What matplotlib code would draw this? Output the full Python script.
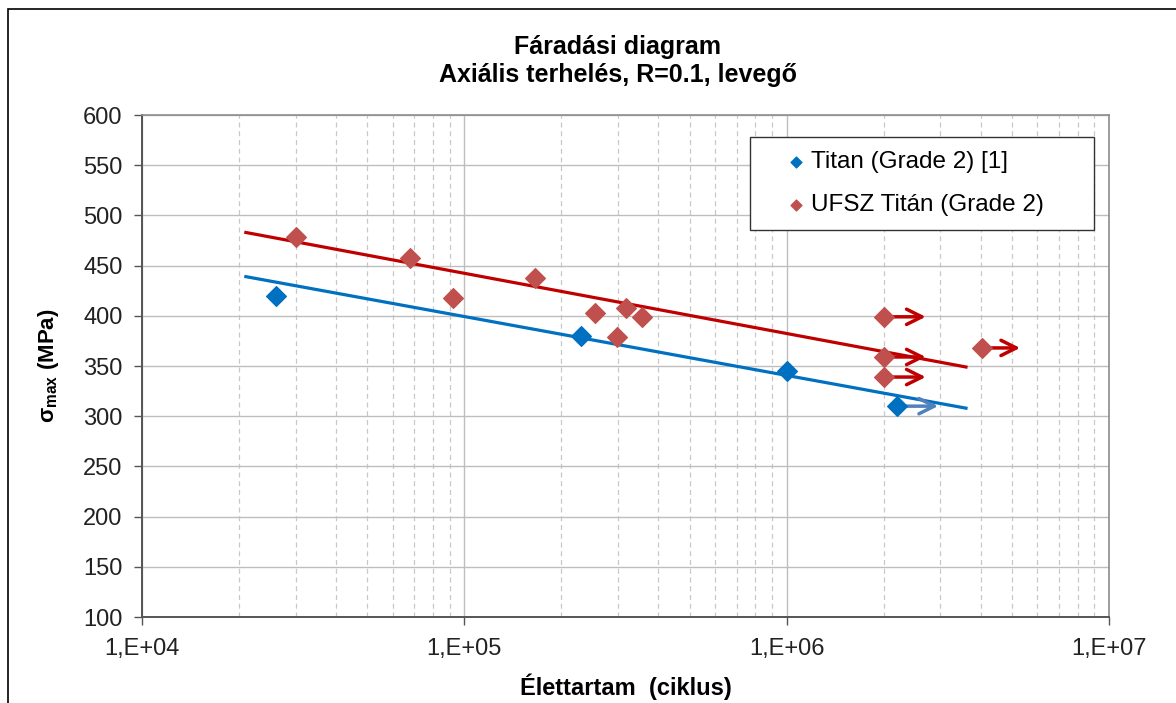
import matplotlib
matplotlib.use("Agg")
import matplotlib.pyplot as plt
import matplotlib.ticker as mticker
from matplotlib.patches import Rectangle
import numpy as np

# Titan (Grade 2) [1] - literature data
titan_n = [2.6e4, 2.3e5, 1.0e6, 2.2e6]
titan_s = [420, 380, 345, 310]

# UFSZ Titán (Grade 2) - own measurements
ufsz_n = [3.0e4, 6.8e4, 9.2e4, 1.66e5, 2.55e5, 2.98e5, 3.18e5, 3.56e5,
          2.0e6, 2.0e6, 2.0e6, 4.05e6]
ufsz_s = [478, 458, 418, 438, 403, 379, 408, 399, 399, 359, 339, 368]

# run-outs (no failure): start and end of the arrow
titan_runout = [(2.2e6, 310, 2.95e6)]
ufsz_runout = [(2.0e6, 399, 2.7e6), (2.0e6, 359, 2.7e6),
               (2.0e6, 339, 2.7e6), (4.05e6, 368, 5.3e6)]

# trend lines (power fit, end points)
titan_trend_n = [2.1e4, 3.6e6]
titan_trend_s = [439, 308]
ufsz_trend_n = [2.1e4, 3.6e6]
ufsz_trend_s = [483, 349]

blue = "#0070C0"
red_mk = "#C0504D"
red_ln = "#C00000"
plt.rcParams["font.family"] = ["Liberation Sans", "DejaVu Sans"]
plt.rcParams["mathtext.fontset"] = "custom"
plt.rcParams["mathtext.rm"] = "Liberation Sans:bold"
plt.rcParams["mathtext.it"] = "Liberation Sans:bold"

fig = plt.figure(figsize=(11.76, 7.03), dpi=100)
ax = fig.add_axes([142 / 1176, 1 - 617 / 703, (1109 - 142) / 1176, (617 - 115) / 703])

ax.set_xscale("log")
ax.set_xlim(1e4, 1e7)
ax.set_ylim(100, 600)

# grid: solid major, dashed minor on x
ax.yaxis.set_major_locator(mticker.MultipleLocator(50))
ax.xaxis.set_major_locator(mticker.LogLocator(base=10, numticks=10))
ax.xaxis.set_minor_locator(mticker.LogLocator(base=10, subs=np.arange(2, 10), numticks=10))
ax.grid(True, which="major", color="#BEBEBE", lw=1.0, ls="-")
ax.grid(True, which="minor", axis="x", color="#C8C8C8", lw=0.9, ls=(0, (4, 3)))
ax.set_axisbelow(True)

ax.xaxis.set_major_formatter(mticker.FuncFormatter(lambda v, p: "1,E+%02d" % round(np.log10(v))))
ax.tick_params(axis="x", which="minor", length=0)
ax.tick_params(axis="both", which="major", direction="out", length=6, width=1, color="#555555")
ax.tick_params(axis="y", labelsize=17, pad=8, labelcolor="#222222")
ax.tick_params(axis="x", labelsize=17, pad=9, labelcolor="#222222")

for side in ["left", "bottom"]:
    ax.spines[side].set_color("#555555")
    ax.spines[side].set_linewidth(1.4)
for side in ["top", "right"]:
    ax.spines[side].set_color("#8C8C8C")
    ax.spines[side].set_linewidth(1.2)

# trend lines
ax.plot(titan_trend_n, titan_trend_s, color=blue, lw=2.3, zorder=3)
ax.plot(ufsz_trend_n, ufsz_trend_s, color=red_ln, lw=2.3, zorder=3)

# run-out arrows
arrow = "->,head_length=1.1,head_width=0.55"
for n0, s, n1 in titan_runout:
    ax.annotate("", xy=(n1, s), xytext=(n0, s),
                arrowprops=dict(arrowstyle=arrow, color="#4F81BD", lw=2.5,
                                shrinkA=0, shrinkB=0), zorder=4)
for n0, s, n1 in ufsz_runout:
    ax.annotate("", xy=(n1, s), xytext=(n0, s),
                arrowprops=dict(arrowstyle=arrow, color=red_ln, lw=2.5,
                                shrinkA=0, shrinkB=0), zorder=4)

ax.scatter(titan_n, titan_s, marker="D", s=100, color=blue, zorder=5,
           label="Titan (Grade 2) [1]")
ax.scatter(ufsz_n, ufsz_s, marker="D", s=100, color=red_mk, zorder=5,
           label="UFSZ Titán (Grade 2)")

# legend without its own frame; the box is drawn separately to keep the right padding
leg = ax.legend(loc="upper left", bbox_to_anchor=(0.649, 0.952), fontsize=17.5,
                frameon=False, handletextpad=0.0, handlelength=1.2,
                labelspacing=0.85, borderpad=0.5, borderaxespad=0, markerscale=0.55)
ax.add_patch(Rectangle(((750 - 142) / 967, (617 - 230) / 502), (1094 - 750) / 967,
                       (230 - 137) / 502, transform=ax.transAxes, facecolor="white",
                       edgecolor="#333333", lw=1.0, zorder=6))
leg.set_zorder(7)

ax.set_ylabel(r"$\sigma_{\mathrm{max}}$ (MPa)", fontsize=16, fontweight="bold", labelpad=16)
ax.set_xlabel("Élettartam  (ciklus)", fontsize=17, fontweight="bold", labelpad=10)

cx = 618 / 1176
fig.text(cx, 1 - 47 / 703, "Fáradási diagram", ha="center",
         va="center", fontsize=18, fontweight="bold")
fig.text(cx, 1 - 75 / 703, "Axiális terhelés, R=0.1, levegő",
         ha="center", va="center", fontsize=18, fontweight="bold")

# outer chart frame
fig.patches.append(Rectangle((8 / 1176, -0.1), 1.2, 1.1 - 9 / 703, transform=fig.transFigure,
                             fill=False, edgecolor="black", lw=1.2))

fig.savefig("out.png", dpi=100)
